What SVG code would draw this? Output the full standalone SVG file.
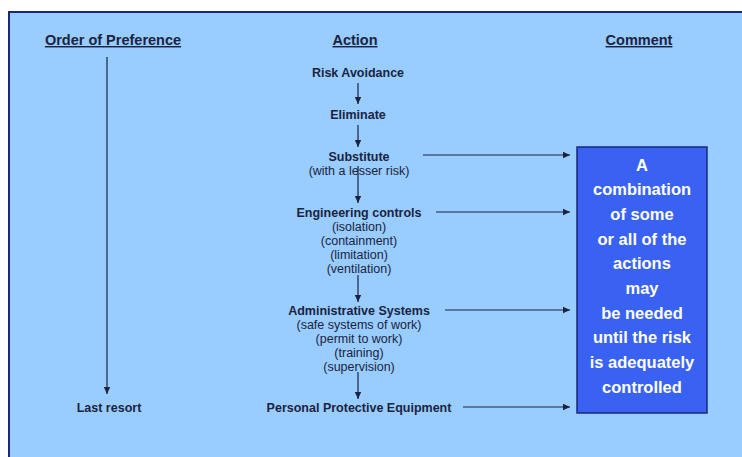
<svg xmlns="http://www.w3.org/2000/svg" width="742" height="457" viewBox="0 0 742 457">
<defs>
<marker id="ah" markerWidth="8" markerHeight="8" refX="7" refY="4" orient="auto" markerUnits="userSpaceOnUse">
<path d="M0,0.8 L7,4 L0,7.2 Z" fill="#1a2440"/>
</marker>
<style>
text{font-family:"Liberation Sans",Arial,sans-serif;fill:#1a2440;text-anchor:middle}
.h{font-size:14.5px;font-weight:bold;text-decoration:underline}
.b{font-size:12.5px;font-weight:bold}
.r{font-size:12.5px}
.w{font-size:16.5px;font-weight:bold;fill:#ffffff}
.c{stroke:#1a2440;stroke-width:1.2;fill:none;marker-end:url(#ah)}
</style>
</defs>
<rect x="0" y="0" width="742" height="457" fill="#ffffff"/>
<rect x="9" y="12" width="800" height="500" fill="#99ccff" stroke="#1a2a7a" stroke-width="2"/>
<g id="headers">
<text class="h" x="113" y="45">Order of Preference</text>
<text class="h" x="355" y="45">Action</text>
<text class="h" x="639" y="45">Comment</text>
</g>
<g id="connectors">
<line class="c" x1="107" y1="57" x2="107" y2="394"/>
<line class="c" x1="358" y1="83" x2="358" y2="104"/>
<line class="c" x1="358" y1="125" x2="358" y2="147"/>
<line class="c" x1="358" y1="166" x2="358" y2="203"/>
<line class="c" x1="358" y1="275" x2="358" y2="302"/>
<line class="c" x1="358" y1="372" x2="358" y2="399"/>
<line class="c" x1="423" y1="155" x2="570" y2="155"/>
<line class="c" x1="436" y1="212" x2="570" y2="212"/>
<line class="c" x1="445" y1="310" x2="570" y2="310"/>
<line class="c" x1="463" y1="407" x2="570" y2="407"/>
</g>
<g id="last-resort"><text class="b" x="109" y="412">Last resort</text></g>
<g id="risk-avoidance"><text class="b" x="358" y="77">Risk Avoidance</text></g>
<g id="eliminate"><text class="b" x="358" y="119">Eliminate</text></g>
<g id="substitute">
<text class="b" x="359" y="161">Substitute</text>
<text class="r" x="359" y="175">(with a lesser risk)</text>
</g>
<g id="engineering">
<text class="b" x="359" y="217">Engineering controls</text>
<text class="r" x="359" y="231">(isolation)</text>
<text class="r" x="359" y="245">(containment)</text>
<text class="r" x="359" y="259">(limitation)</text>
<text class="r" x="359" y="273">(ventilation)</text>
</g>
<g id="administrative">
<text class="b" x="359" y="315">Administrative Systems</text>
<text class="r" x="359" y="329">(safe systems of work)</text>
<text class="r" x="359" y="343">(permit to work)</text>
<text class="r" x="359" y="357">(training)</text>
<text class="r" x="359" y="371">(supervision)</text>
</g>
<g id="ppe"><text class="b" x="359" y="412">Personal Protective Equipment</text></g>
<g id="comment-box">
<rect x="577" y="147" width="130" height="266" fill="#3a62f2" stroke="#1a2a7a" stroke-width="1.5"/>
<text class="w" x="642" y="171">A</text>
<text class="w" x="642" y="195">combination</text>
<text class="w" x="642" y="220">of some</text>
<text class="w" x="642" y="245">or all of the</text>
<text class="w" x="642" y="269">actions</text>
<text class="w" x="642" y="294">may</text>
<text class="w" x="642" y="319">be needed</text>
<text class="w" x="642" y="343">until the risk</text>
<text class="w" x="642" y="368">is adequately</text>
<text class="w" x="642" y="393">controlled</text>
</g>
</svg>
